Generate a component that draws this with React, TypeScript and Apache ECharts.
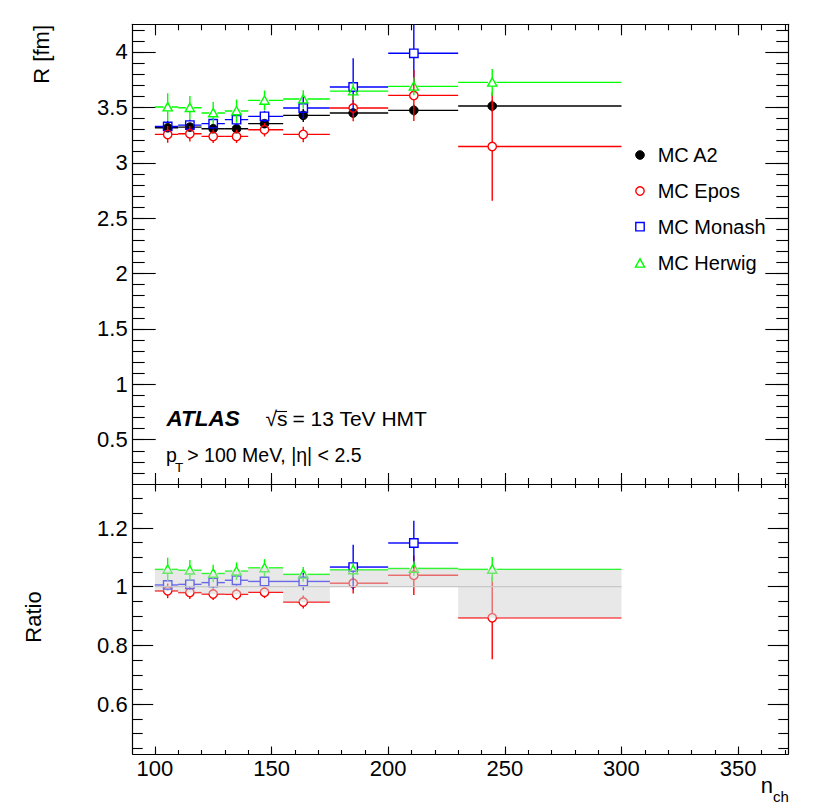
import React, { useEffect, useRef } from 'react';
import * as echarts from 'echarts';

// ---- data ----
const BIN_LO = [100, 110, 120, 130, 140, 155, 175, 200, 230];
const BIN_HI = [110, 120, 130, 140, 155, 175, 200, 230, 300];
const NCH_MEAN = [105.5, 115, 125, 135, 147, 163.6, 185, 211, 244.6];

const R_A2 = [3.316, 3.322, 3.307, 3.307, 3.353, 3.428, 3.449, 3.473, 3.512];
const R_A2_ERR = [0.03, 0.03, 0.03, 0.03, 0.03, 0.06, 0.04, 0.05, 0.05];
const R_EPOS = [3.256, 3.262, 3.238, 3.238, 3.298, 3.256, 3.494, 3.608, 3.147];
const R_EPOS_ERR = [0.076, 0.07, 0.06, 0.06, 0.06, 0.07, 0.12, 0.23, 0.49];
const R_MONASH = [3.328, 3.34, 3.353, 3.389, 3.419, 3.494, 3.684, 3.988];
const R_MONASH_ERR = [0.05, 0.05, 0.05, 0.05, 0.05, 0.1, 0.26, 0.26];
const R_HERWIG = [3.503, 3.497, 3.449, 3.467, 3.563, 3.575, 3.647, 3.69, 3.726];
const R_HERWIG_ERR = [0.125, 0.105, 0.1, 0.105, 0.09, 0.08, 0.08, 0.08, 0.12];

const RAT_EPOS = [0.986, 0.98, 0.975, 0.974, 0.981, 0.948, 1.012, 1.039, 0.894];
const RAT_EPOS_ERR = [0.025, 0.022, 0.02, 0.02, 0.02, 0.022, 0.035, 0.067, 0.141];
const RAT_MONASH = [1.006, 1.008, 1.014, 1.022, 1.018, 1.018, 1.067, 1.149];
const RAT_MONASH_ERR = [0.018, 0.018, 0.018, 0.018, 0.018, 0.03, 0.076, 0.076];
const RAT_HERWIG = [1.059, 1.056, 1.045, 1.053, 1.064, 1.042, 1.057, 1.062, 1.059];
const RAT_HERWIG_ERR = [0.04, 0.035, 0.03, 0.03, 0.03, 0.025, 0.025, 0.025, 0.042];

const X_MAJOR = [100, 150, 200, 250, 300, 350];
const Y_TOP_MAJOR = [0.5, 1, 1.5, 2, 2.5, 3, 3.5, 4];
const Y_LOW_MAJOR = [0.6, 0.8, 1, 1.2];

const X_MIN = 90.5;
const X_MAX = 371.5;
const Y_TOP_MIN = 0.1;
const Y_TOP_MAX = 4.25;
const Y_LOW_MIN = 0.43;
const Y_LOW_MAX = 1.35;

function steps(from: number, to: number, step: number): number[] {
  const out: number[] = [];
  const n = Math.round((to - from) / step);
  for (let i = 0; i <= n; i++) out.push(Math.round((from + i * step) * 1000) / 1000);
  return out;
}
const X_MINOR = steps(100, 370, 10);
const Y_TOP_MINOR = steps(0.2, 4.2, 0.1);
const Y_LOW_MINOR = steps(0.45, 1.3, 0.05);

const FONT = "'Liberation Sans', Arial, Helvetica, sans-serif";

const GRID_LEFT = 132.7;
const GRID_W = 655.6;
const GRIDS = [
  { left: GRID_LEFT, top: 24.3, width: GRID_W, height: 459.7, outerBoundsMode: 'none' },
  { left: GRID_LEFT, top: 484, width: GRID_W, height: 270, outerBoundsMode: 'none' },
];

function markerShape(kind: string, cx: number, cy: number, color: string) {
  const r = 4.2;
  const st = { stroke: color, lineWidth: 1.4, fill: 'none' };
  if (kind === 'dot') return { type: 'circle', shape: { cx, cy, r: 4.3 }, style: { fill: color, stroke: color, lineWidth: 1 } };
  if (kind === 'circle') return { type: 'circle', shape: { cx, cy, r }, style: st };
  if (kind === 'square') return { type: 'rect', shape: { x: cx - r, y: cy - r, width: 2 * r, height: 2 * r }, style: st };
  return {
    type: 'polygon',
    shape: { points: [[cx, cy - r - 0.3], [cx - r - 0.4, cy + r * 0.9], [cx + r + 0.4, cy + r * 0.9]] },
    style: st,
  };
}

const renderPoints = (kind: string, color: string) => (params: any, api: any) => {
  const x = api.value(0), lo = api.value(1), hi = api.value(2), y = api.value(3), e = api.value(4);
  const c = api.coord([x, y]);
  const pl = api.coord([lo, y]);
  const ph = api.coord([hi, y]);
  const pt = api.coord([x, y + e]);
  const pb = api.coord([x, y - e]);
  const g = kind === 'dot' ? 0 : 4.2;
  const ls = { stroke: color, lineWidth: 1.4 };
  const kids: any[] = [];
  const seg = (x1: number, y1: number, x2: number, y2: number) => {
    kids.push({ type: 'line', shape: { x1, y1, x2, y2 }, style: ls });
  };
  if (c[0] - g > pl[0]) seg(pl[0], c[1], c[0] - g, c[1]);
  if (ph[0] > c[0] + g) seg(c[0] + g, c[1], ph[0], c[1]);
  if (c[1] - g > pt[1]) seg(c[0], pt[1], c[0], c[1] - g);
  if (pb[1] > c[1] + g) seg(c[0], c[1] + g, c[0], pb[1]);
  kids.push(markerShape(kind, c[0], c[1], color));
  return { type: 'group', children: kids };
};

function pointsSeries(name: string, kind: string, color: string, vals: number[], errs: number[], g: number, z: number) {
  return {
    type: 'custom',
    name,
    xAxisIndex: g * 4,
    yAxisIndex: g * 4,
    clip: true,
    z,
    renderItem: renderPoints(kind, color),
    data: vals.map((v, i) => [NCH_MEAN[i], BIN_LO[i], BIN_HI[i], v, errs[i]]),
  };
}

function makeX(g: number, pos: string, major: boolean) {
  const isLabel = g === 1 && pos === 'bottom' && major;
  const lenMajor = g === 0 ? 11 : 7.5;
  const lenMinor = g === 0 ? 6 : 4;
  return {
    type: 'value',
    gridIndex: g,
    position: pos,
    min: X_MIN,
    max: X_MAX,
    axisLine: { show: major, onZero: false, lineStyle: { color: '#000', width: 1.2 } },
    axisTick: {
      show: true,
      inside: true,
      length: major ? lenMajor : lenMinor,
      customValues: major ? X_MAJOR : X_MINOR,
      lineStyle: { color: '#000', width: 1.1 },
    },
    axisLabel: isLabel
      ? { show: true, customValues: X_MAJOR, color: '#000', fontSize: 22, fontFamily: FONT, margin: 3 }
      : { show: false },
    splitLine: { show: false },
  };
}

function makeY(g: number, pos: string, major: boolean) {
  const isLabel = pos === 'left' && major;
  const min = g === 0 ? Y_TOP_MIN : Y_LOW_MIN;
  const max = g === 0 ? Y_TOP_MAX : Y_LOW_MAX;
  const majorVals = g === 0 ? Y_TOP_MAJOR : Y_LOW_MAJOR;
  const minorVals = g === 0 ? Y_TOP_MINOR : Y_LOW_MINOR;
  const lenMajor = g === 0 ? 23 : 20.5;
  const lenMinor = g === 0 ? 12 : 10;
  return {
    type: 'value',
    gridIndex: g,
    position: pos,
    min,
    max,
    axisLine: { show: major, onZero: false, lineStyle: { color: '#000', width: 1.2 } },
    axisTick: {
      show: true,
      inside: true,
      length: major ? lenMajor : lenMinor,
      customValues: major ? majorVals : minorVals,
      lineStyle: { color: '#000', width: 1.1 },
    },
    axisLabel: isLabel
      ? { show: true, customValues: majorVals, color: '#000', fontSize: 22, fontFamily: FONT, margin: 5 }
      : { show: false },
    splitLine: { show: false },
  };
}

const xAxes: any[] = [];
const yAxes: any[] = [];
[0, 1].forEach((g) => {
  xAxes.push(makeX(g, 'bottom', true), makeX(g, 'bottom', false), makeX(g, 'top', true), makeX(g, 'top', false));
  yAxes.push(makeY(g, 'left', true), makeY(g, 'left', false), makeY(g, 'right', true), makeY(g, 'right', false));
});

const BAND = BIN_LO.map((lo, i) => [
  lo,
  BIN_HI[i],
  Math.min(1, RAT_EPOS[i], RAT_HERWIG[i]),
  Math.max(1, RAT_EPOS[i], RAT_HERWIG[i]),
]);

function txt(x: number, y: number, text: string, size: number, opts: any = {}) {
  return {
    type: 'text',
    x,
    y,
    rotation: opts.rotation || 0,
    silent: true,
    style: {
      text,
      fontSize: size,
      fontFamily: FONT,
      fontWeight: opts.weight || 'normal',
      fontStyle: opts.italic ? 'italic' : 'normal',
      fill: '#000',
      align: opts.align || 'left',
      textAlign: opts.align || 'left',
      verticalAlign: 'middle',
      textVerticalAlign: 'middle',
    },
  };
}

const LEG_X = 640;
const LEG_TX = 657.7;
const LEG_ROWS = [155, 191, 226.7, 263.3];
const LEG_LABELS = ['MC A2', 'MC Epos', 'MC Monash', 'MC Herwig'];
const LEG_KINDS = ['dot', 'circle', 'square', 'triangle'];
const LEG_COLORS = ['#000000', '#ff0000', '#0000ff', '#00ff00'];

export default function App() {
  const ref = useRef<HTMLDivElement>(null);
  useEffect(() => {
    if (!ref.current) return;
    const chart = echarts.init(ref.current, undefined, { renderer: 'svg' });
    const graphics: any[] = [];
    LEG_ROWS.forEach((y, i) => {
      graphics.push(markerShape(LEG_KINDS[i], LEG_X, y, LEG_COLORS[i]));
      graphics.push(txt(LEG_TX, y, LEG_LABELS[i], 20));
    });
    graphics.push(txt(41, 25, 'R [fm]', 22, { rotation: Math.PI / 2, align: 'right' }));
    graphics.push(txt(33, 617, 'Ratio', 22, { rotation: Math.PI / 2, align: 'center' }));
    graphics.push(txt(773, 785.5, 'n', 22, { align: 'right' }));
    graphics.push(txt(773, 796.5, 'ch', 15));
    graphics.push(txt(166.5, 418, 'ATLAS', 22.5, { weight: 'bold', italic: true }));
    graphics.push(txt(265.5, 418, '√s', 21));
    graphics.push({ type: 'line', silent: true, shape: { x1: 276, y1: 411.5, x2: 287, y2: 411.5 }, style: { stroke: '#000', lineWidth: 1.1 } });
    graphics.push(txt(292.5, 418, '= 13 TeV HMT', 21));
    graphics.push(txt(166, 455, 'p', 19.5));
    graphics.push(txt(175, 467, 'T', 13.5));
    graphics.push(txt(187.3, 455, '> 100 MeV, |η| < 2.5', 19.5));

    chart.setOption({
      animation: false,
      backgroundColor: '#ffffff',
      grid: GRIDS,
      xAxis: xAxes,
      yAxis: yAxes,
      graphic: graphics,
      series: [
        pointsSeries('MC A2', 'dot', '#000000', R_A2, R_A2_ERR, 0, 2),
        pointsSeries('MC Monash', 'square', '#0000ff', R_MONASH, R_MONASH_ERR, 0, 2),
        pointsSeries('MC Epos', 'circle', '#ff0000', R_EPOS, R_EPOS_ERR, 0, 2),
        pointsSeries('MC Herwig', 'triangle', '#00ff00', R_HERWIG, R_HERWIG_ERR, 0, 2),
        pointsSeries('Epos ratio', 'circle', '#ff0000', RAT_EPOS, RAT_EPOS_ERR, 1, 2),
        pointsSeries('Monash ratio', 'square', '#0000ff', RAT_MONASH, RAT_MONASH_ERR, 1, 2),
        pointsSeries('Herwig ratio', 'triangle', '#00ff00', RAT_HERWIG, RAT_HERWIG_ERR, 1, 2),
        {
          type: 'custom',
          name: 'band',
          xAxisIndex: 4,
          yAxisIndex: 4,
          z: 5,
          clip: true,
          renderItem: (params: any, api: any) => {
            const a = api.coord([api.value(0), api.value(3)]);
            const b = api.coord([api.value(1), api.value(2)]);
            return {
              type: 'rect',
              shape: { x: a[0], y: a[1], width: b[0] - a[0], height: b[1] - a[1] },
              style: { fill: 'rgba(209,209,209,0.5)', stroke: 'none' },
            };
          },
          data: BAND,
        },
        {
          type: 'custom',
          name: 'unity',
          xAxisIndex: 4,
          yAxisIndex: 4,
          z: 6,
          clip: true,
          renderItem: (params: any, api: any) => {
            const a = api.coord([api.value(0), api.value(2)]);
            const b = api.coord([api.value(1), api.value(2)]);
            return {
              type: 'line',
              shape: { x1: a[0], y1: a[1], x2: b[0], y2: b[1] },
              style: { stroke: '#c8c8c8', lineWidth: 1.2 },
            };
          },
          data: [[BIN_LO[0], BIN_HI[BIN_HI.length - 1], 1]],
        },
      ],
    });
    return () => chart.dispose();
  }, []);
  return (
    <div
      ref={ref}
      style={{ position: 'absolute', left: 0, top: 0, width: 830, height: 806, background: '#fff' }}
    />
  );
}
